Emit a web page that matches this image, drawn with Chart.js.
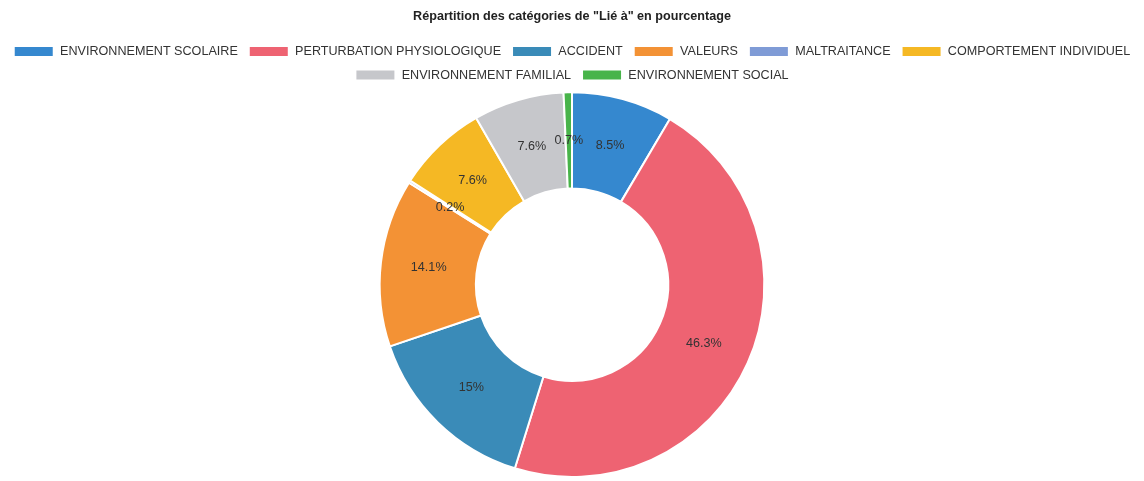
<!DOCTYPE html>
<html>
<head>
<meta charset="utf-8">
<script src="https://cdn.jsdelivr.net/npm/chart.js@4.4.0/dist/chart.umd.min.js"></script>
<style>
  html, body { margin: 0; padding: 0; background: #fff; }
  #wrap { width: 1144px; height: 481px; }
</style>
</head>
<body>
<div id="wrap"><canvas id="lieChart"></canvas></div>
<script>
// catégories et pourcentages
const categories = [
  "ENVIRONNEMENT SCOLAIRE",
  "PERTURBATION PHYSIOLOGIQUE",
  "ACCIDENT",
  "VALEURS",
  "MALTRAITANCE",
  "COMPORTEMENT INDIVIDUEL",
  "ENVIRONNEMENT FAMILIAL",
  "ENVIRONNEMENT SOCIAL"
];
const pourcentages = [8.5, 46.3, 15, 14.1, 0.2, 7.6, 7.6, 0.7];
const couleurs = ["#3588cf", "#ee6372", "#3a8bb8", "#f39235", "#7f9bd6", "#f5b824", "#c6c7cb", "#48b44a"];

const police = "'Liberation Sans', Arial, sans-serif";

// étiquettes % au centre de chaque part
const etiquettesPlugin = {
  id: "etiquettes",
  afterDatasetsDraw(chart) {
    const ctx = chart.ctx;
    const meta = chart.getDatasetMeta(0);
    ctx.save();
    ctx.font = "12.6px " + police;
    ctx.fillStyle = "#333";
    ctx.textAlign = "center";
    ctx.textBaseline = "middle";
    meta.data.forEach((arc, i) => {
      const p = arc.tooltipPosition();
      ctx.fillText(pourcentages[i] + "%", p.x, p.y);
    });
    ctx.restore();
  }
};

const ctx = document.getElementById("lieChart").getContext("2d");
new Chart(ctx, {
  type: "doughnut",
  data: {
    labels: categories,
    datasets: [{
      data: pourcentages,
      backgroundColor: couleurs,
      borderColor: "#fff",
      borderWidth: 2
    }]
  },
  options: {
    responsive: true,
    maintainAspectRatio: false,
    animation: false,
    cutout: "50%",
    layout: { padding: { top: 0, bottom: 3 } },
    plugins: {
      title: {
        display: true,
        text: 'Répartition des catégories de "Lié à" en pourcentage',
        color: "#222",
        padding: { top: 9, bottom: 10 },
        font: { family: police, size: 12.6, weight: "bold" }
      },
      legend: {
        position: "top",
        labels: {
          color: "#333",
          boxWidth: 40,
          boxHeight: 11,
          padding: 11,
          font: { family: police, size: 12.6 }
        }
      },
      tooltip: { enabled: false }
    }
  },
  plugins: [etiquettesPlugin]
});
</script>
</body>
</html>
